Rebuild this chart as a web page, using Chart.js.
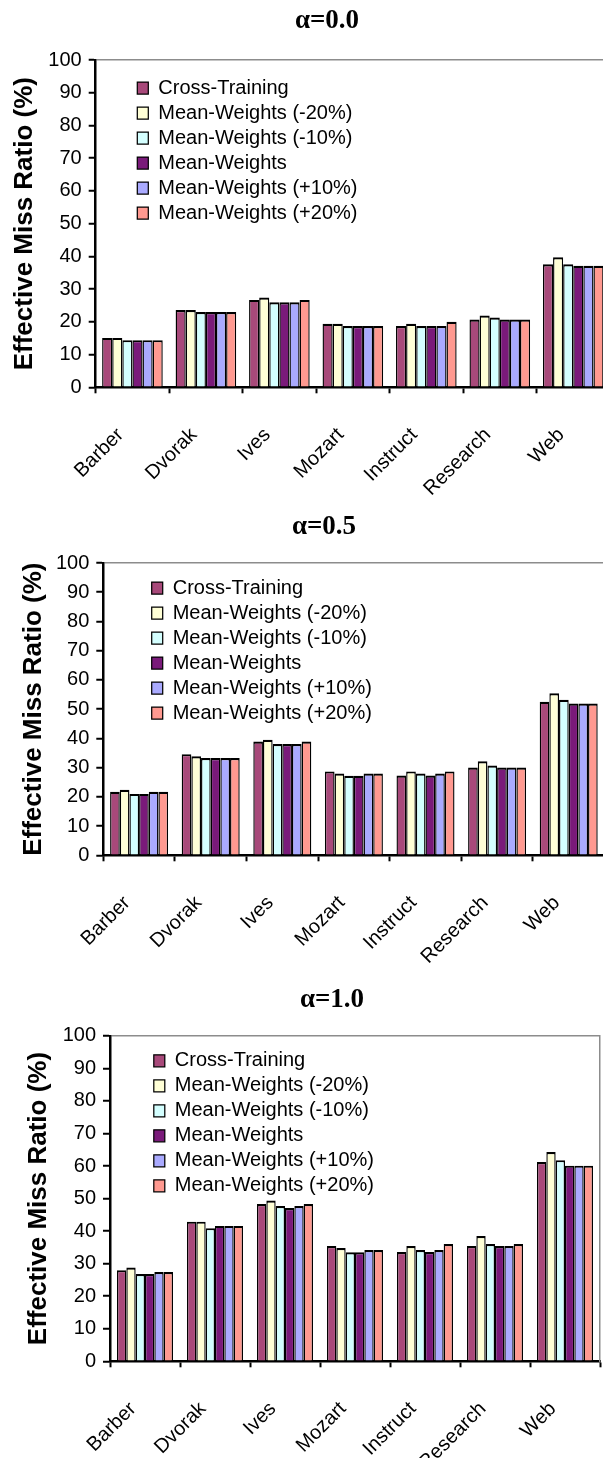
<!DOCTYPE html>
<html>
<head>
<meta charset="utf-8">
<script src="https://cdn.jsdelivr.net/npm/chart.js@4.4.1/dist/chart.umd.min.js"></script>
<style>
html, body { margin: 0; padding: 0; background: #fff; overflow: hidden; width: 603px; height: 1458px; position: relative; }
canvas { position: absolute; left: 0; }
</style>
</head>
<body>
<canvas id="chart00" width="654" height="495" style="top:0px"></canvas>
<canvas id="chart05" width="648" height="480" style="top:495px"></canvas>
<canvas id="chart10" width="664" height="483" style="top:975px"></canvas>
<script>
const categories = ['Barber', 'Dvorak', 'Ives', 'Mozart', 'Instruct', 'Research', 'Web'];
const seriesNames = ['Cross-Training', 'Mean-Weights (-20%)', 'Mean-Weights (-10%)',
                     'Mean-Weights', 'Mean-Weights (+10%)', 'Mean-Weights (+20%)'];
const seriesColors = ['#a8497a', '#ffffd6', '#d4ffff', '#7a1a7a', '#aaaaff', '#ff9990'];
const yTicks = [0, 10, 20, 30, 40, 50, 60, 70, 80, 90, 100];

// alpha = 0.0
const cross00 = [15.1, 23.6, 26.7, 19.4, 18.7, 20.7, 37.6];
const mwMinus20_00 = [15.1, 23.6, 27.4, 19.4, 19.4, 21.9, 39.7];
const mwMinus10_00 = [14.4, 23.0, 26.0, 18.7, 18.7, 21.3, 37.6];
const mw00 = [14.4, 23.0, 26.0, 18.7, 18.7, 20.7, 37.1];
const mwPlus10_00 = [14.4, 23.0, 26.0, 18.7, 18.7, 20.7, 37.1];
const mwPlus20_00 = [14.4, 23.0, 26.7, 18.7, 20.0, 20.7, 37.1];

// alpha = 0.5
const cross05 = [21.7, 34.6, 38.9, 28.7, 27.3, 30.0, 52.5];
const mwMinus20_05 = [22.4, 33.9, 39.5, 28.0, 28.7, 32.2, 55.4];
const mwMinus10_05 = [21.0, 33.3, 38.1, 27.2, 28.0, 30.7, 53.2];
const mw05 = [21.0, 33.3, 38.1, 27.2, 27.3, 30.0, 51.9];
const mwPlus10_05 = [21.7, 33.3, 38.1, 28.0, 28.0, 30.0, 51.9];
const mwPlus20_05 = [21.7, 33.3, 38.9, 28.0, 28.7, 30.0, 51.9];

// alpha = 1.0
const cross10 = [28.0, 42.9, 48.3, 35.4, 33.6, 35.4, 61.2];
const mwMinus20_10 = [28.8, 42.9, 49.4, 34.8, 35.4, 38.5, 64.3];
const mwMinus10_10 = [26.8, 40.9, 47.7, 33.5, 34.2, 36.0, 61.8];
const mw10 = [26.8, 41.6, 47.1, 33.5, 33.6, 35.4, 60.1];
const mwPlus10_10 = [27.4, 41.6, 47.7, 34.2, 34.2, 35.4, 60.1];
const mwPlus20_10 = [27.4, 41.6, 48.3, 34.2, 36.0, 36.0, 60.1];

Chart.defaults.font.family = "'Liberation Sans', Arial, sans-serif";
Chart.defaults.color = '#000';

// moves the chartArea legend to its spot inside the plot
const legendSpot = {
    id: 'legendSpot',
    afterLayout(chart, args, opts) {
        const lg = chart.legend;
        const area = chart.chartArea;
        if (!lg) return;
        lg.left = area.left + opts.dx;
        lg.top = area.top + opts.dy;
        lg.right = area.right;
        lg.bottom = area.bottom;
    }
};

function drawPanel(id, titleText, values, box) {
    new Chart(document.getElementById(id), {
        type: 'bar',
        data: {
            labels: categories,
            datasets: seriesNames.map((name, i) => ({
                label: name,
                data: values[i],
                backgroundColor: seriesColors[i],
                borderColor: '#000',
                borderWidth: {top: 2.2, left: 1.4, right: 1.4, bottom: 0},
                categoryPercentage: box.catPct,
                barPercentage: 1
            }))
        },
        options: {
            responsive: false,
            animation: false,
            events: [],
            layout: {padding: 0},
            plugins: {
                title: {
                    display: true,
                    text: titleText,
                    color: '#000',
                    font: {family: "'Liberation Serif', 'Times New Roman', serif", size: 27, weight: 'bold'},
                    padding: {top: box.titleTop, bottom: box.titleBottom}
                },
                legend: {
                    position: 'chartArea',
                    align: 'start',
                    labels: {boxWidth: 11, boxHeight: 12, padding: 5, color: '#000', font: {size: 20}}
                },
                tooltip: {enabled: false},
                legendSpot: {dx: box.legendDx, dy: box.legendDy}
            },
            scales: {
                x: {
                    grid: {offset: true, drawOnChartArea: false, tickLength: 6, tickWidth: 2, tickColor: '#000'},
                    border: {color: '#000', width: 2.5},
                    ticks: {color: '#000', font: {size: 20}, minRotation: 45, maxRotation: 45,
                            autoSkip: false, padding: box.labelPad, labelOffset: -12},
                    afterFit: s => { s.height = box.xHeight; }
                },
                y: {
                    min: 0,
                    max: 100,
                    afterBuildTicks: s => { s.ticks = yTicks.map(v => ({value: v})); },
                    ticks: {color: '#000', font: {size: 20}, padding: 7},
                    grid: {
                        color: c => (c.tick && c.tick.value === 100) ? '#8c8c8c' : 'rgba(0,0,0,0)',
                        lineWidth: 1.5, tickColor: '#000', tickLength: 7, tickWidth: 2
                    },
                    border: {color: '#000', width: 2.5},
                    title: {display: true, text: 'Effective Miss Ratio (%)', color: '#000',
                            font: {size: 26, weight: 'bold'}, padding: {top: box.yTitlePad, bottom: 0}},
                    afterFit: s => { s.width = box.plotLeft; }
                },
                y2: {
                    type: 'linear',
                    position: 'right',
                    grid: {display: false},
                    ticks: {display: false},
                    border: {display: true, color: '#8c8c8c', width: 1.5},
                    afterFit: s => { s.width = box.rightGap; }
                }
            }
        },
        plugins: [legendSpot]
    });
}

drawPanel('chart00', 'α=0.0',
    [cross00, mwMinus20_00, mwMinus10_00, mw00, mwPlus10_00, mwPlus20_00],
    {plotLeft: 95.7, rightGap: 44, titleTop: 4.4, titleBottom: 23.2, xHeight: 107.7,
     legendDx: 36.6, legendDy: 13, yTitlePad: 9, labelPad: 30, catPct: 0.825});

drawPanel('chart05', 'α=0.5',
    [cross05, mwMinus20_05, mwMinus10_05, mw05, mwPlus10_05, mwPlus20_05],
    {plotLeft: 103.3, rightGap: 43.5, titleTop: 15.8, titleBottom: 19.8, xHeight: 119.7,
     legendDx: 43.4, legendDy: 10, yTitlePad: 18, labelPad: 30, catPct: 0.81});

drawPanel('chart10', 'α=1.0',
    [cross10, mwMinus20_10, mwMinus10_10, mw10, mwPlus10_10, mwPlus20_10],
    {plotLeft: 110, rightGap: 64, titleTop: 9.3, titleBottom: 19.1, xHeight: 96.7,
     legendDx: 38.8, legendDy: 10, yTitlePad: 23, labelPad: 30, catPct: 0.80});
</script>
</body>
</html>
